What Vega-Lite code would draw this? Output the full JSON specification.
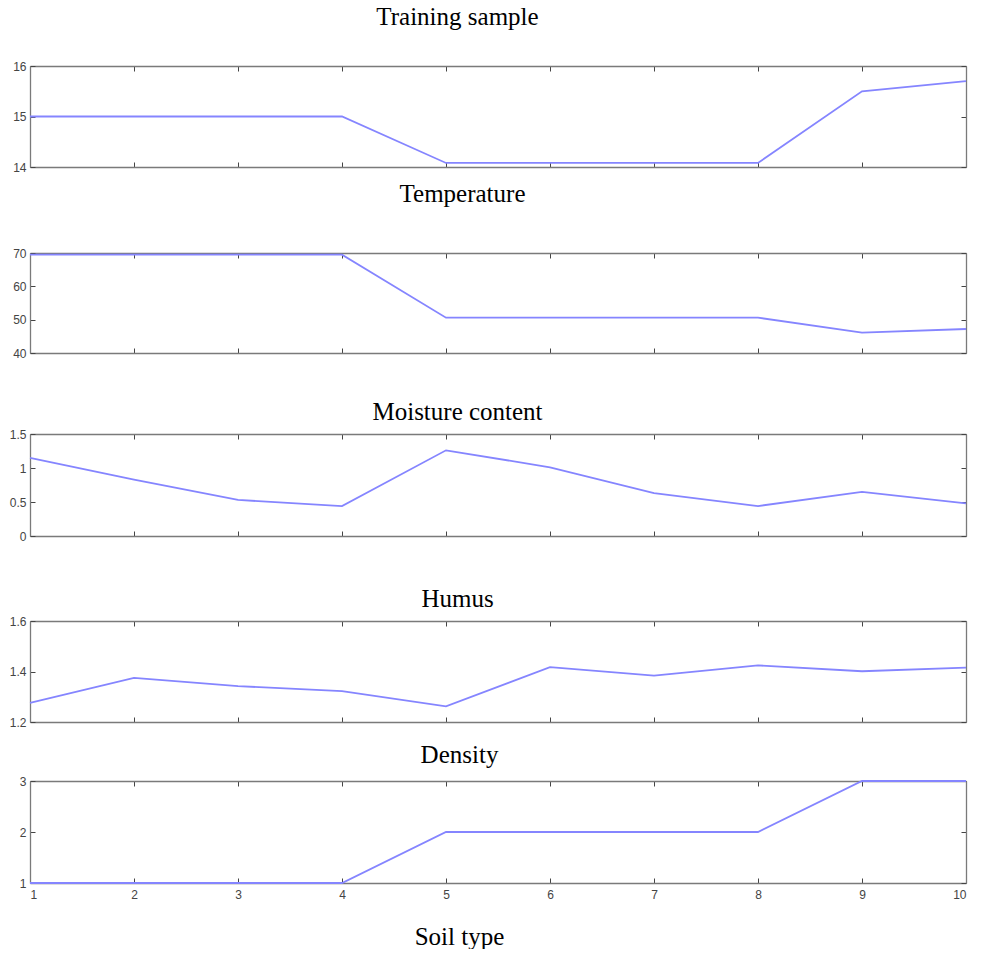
{
  "$schema": "https://vega.github.io/schema/vega-lite/v6.json",
  "padding": {"left": 5, "top": 4, "right": 0, "bottom": 0},
  "background": "white",
  "spacing": 0,
  "config": {
    "view": {"stroke": null},
    "axis": {
      "domainColor": "#7a7a7a",
      "domainWidth": 1.3,
      "tickColor": "#444",
      "tickSize": -5,
      "tickWidth": 1,
      "grid": false,
      "labelFont": "Liberation Sans",
      "labelFontSize": 12,
      "labelColor": "#444",
      "titleFont": "Liberation Serif",
      "titleFontSize": 25,
      "titleFontWeight": "normal",
      "titleColor": "#000"
    },
    "line": {"color": "#8585ff", "strokeWidth": 1.8}
  },
  "data": {
    "values": [
      {"x": 1, "temperature": 15.0, "moisture": 69.5, "humus": 1.15, "density": 1.276, "soil": 1},
      {"x": 2, "temperature": 15.0, "moisture": 69.5, "humus": 0.83, "density": 1.375, "soil": 1},
      {"x": 3, "temperature": 15.0, "moisture": 69.5, "humus": 0.53, "density": 1.342, "soil": 1},
      {"x": 4, "temperature": 15.0, "moisture": 69.5, "humus": 0.44, "density": 1.322, "soil": 1},
      {"x": 5, "temperature": 14.08, "moisture": 50.6, "humus": 1.26, "density": 1.262, "soil": 2},
      {"x": 6, "temperature": 14.08, "moisture": 50.6, "humus": 1.01, "density": 1.417, "soil": 2},
      {"x": 7, "temperature": 14.08, "moisture": 50.6, "humus": 0.63, "density": 1.384, "soil": 2},
      {"x": 8, "temperature": 14.08, "moisture": 50.6, "humus": 0.44, "density": 1.424, "soil": 2},
      {"x": 9, "temperature": 15.5, "moisture": 46.1, "humus": 0.65, "density": 1.401, "soil": 3},
      {"x": 10, "temperature": 15.7, "moisture": 47.2, "humus": 0.48, "density": 1.415, "soil": 3}
    ]
  },
  "vconcat": [
    {
      "width": 936, "height": 101,
      "layer": [
        {"mark": {"type": "line"},
         "encoding": {
           "x": {"field": "x", "type": "quantitative", "scale": {"domain": [1, 10]},
                 "axis": {"orient": "bottom", "values": [1,2,3,4,5,6,7,8,9,10], "labels": false, "title": "Temperature", "titlePadding": 14, "minExtent": 0, "titleX": 432}},
           "y": {"field": "temperature", "type": "quantitative", "scale": {"domain": [14, 16], "nice": false, "zero": false},
                 "axis": {"orient": "left", "values": [14, 15, 16], "format": "~r", "labelPadding": 9, "minExtent": 25, "title": null}}
         }},
        {"mark": {"type": "line", "opacity": 0},
         "encoding": {
           "x": {"field": "x", "type": "quantitative",
                 "axis": {"orient": "top", "values": [1,2,3,4,5,6,7,8,9,10], "labels": false, "title": "Training sample", "titlePadding": 36, "minExtent": 0, "titleX": 427}},
           "y": {"field": "temperature", "type": "quantitative",
                 "axis": {"orient": "right", "values": [14, 15, 16], "labels": false, "title": null, "minExtent": 0}}
         }}
      ],
      "resolve": {"axis": {"x": "independent", "y": "independent"}}
    },
    {
      "width": 936, "height": 100,
      "layer": [
        {"mark": {"type": "line"},
         "encoding": {
           "x": {"field": "x", "type": "quantitative", "scale": {"domain": [1, 10]},
                 "axis": {"orient": "bottom", "values": [1,2,3,4,5,6,7,8,9,10], "labels": false, "title": "Moisture content", "titlePadding": 46, "minExtent": 0, "titleX": 427}},
           "y": {"field": "moisture", "type": "quantitative", "scale": {"domain": [40, 70], "nice": false, "zero": false},
                 "axis": {"orient": "left", "values": [40, 50, 60, 70], "format": "~r", "labelPadding": 9, "minExtent": 25, "title": null}}
         }},
        {"mark": {"type": "line", "opacity": 0},
         "encoding": {
           "x": {"field": "x", "type": "quantitative",
                 "axis": {"orient": "top", "values": [1,2,3,4,5,6,7,8,9,10], "labels": false, "title": null, "minExtent": 46}},
           "y": {"field": "moisture", "type": "quantitative",
                 "axis": {"orient": "right", "values": [40, 50, 60, 70], "labels": false, "title": null, "minExtent": 0}}
         }}
      ],
      "resolve": {"axis": {"x": "independent", "y": "independent"}}
    },
    {
      "width": 936, "height": 102,
      "layer": [
        {"mark": {"type": "line"},
         "encoding": {
           "x": {"field": "x", "type": "quantitative", "scale": {"domain": [1, 10]},
                 "axis": {"orient": "bottom", "values": [1,2,3,4,5,6,7,8,9,10], "labels": false, "title": "Humus", "titlePadding": 50, "minExtent": 0, "titleX": 427}},
           "y": {"field": "humus", "type": "quantitative", "scale": {"domain": [0, 1.5], "nice": false},
                 "axis": {"orient": "left", "values": [0, 0.5, 1, 1.5], "format": "~r", "labelPadding": 9, "minExtent": 25, "title": null}}
         }},
        {"mark": {"type": "line", "opacity": 0},
         "encoding": {
           "x": {"field": "x", "type": "quantitative",
                 "axis": {"orient": "top", "values": [1,2,3,4,5,6,7,8,9,10], "labels": false, "title": null, "minExtent": 9}},
           "y": {"field": "humus", "type": "quantitative",
                 "axis": {"orient": "right", "values": [0, 0.5, 1, 1.5], "labels": false, "title": null, "minExtent": 0}}
         }}
      ],
      "resolve": {"axis": {"x": "independent", "y": "independent"}}
    },
    {
      "width": 936, "height": 101,
      "layer": [
        {"mark": {"type": "line"},
         "encoding": {
           "x": {"field": "x", "type": "quantitative", "scale": {"domain": [1, 10]},
                 "axis": {"orient": "bottom", "values": [1,2,3,4,5,6,7,8,9,10], "labels": false, "title": "Density", "titlePadding": 20, "minExtent": 0, "titleX": 429}},
           "y": {"field": "density", "type": "quantitative", "scale": {"domain": [1.2, 1.6], "nice": false, "zero": false},
                 "axis": {"orient": "left", "values": [1.2, 1.4, 1.6], "format": "~r", "labelPadding": 9, "minExtent": 25, "title": null}}
         }},
        {"mark": {"type": "line", "opacity": 0},
         "encoding": {
           "x": {"field": "x", "type": "quantitative",
                 "axis": {"orient": "top", "values": [1,2,3,4,5,6,7,8,9,10], "labels": false, "title": null, "minExtent": 9}},
           "y": {"field": "density", "type": "quantitative",
                 "axis": {"orient": "right", "values": [1.2, 1.4, 1.6], "labels": false, "title": null, "minExtent": 0}}
         }}
      ],
      "resolve": {"axis": {"x": "independent", "y": "independent"}}
    },
    {
      "width": 936, "height": 102,
      "layer": [
        {"mark": {"type": "line"},
         "encoding": {
           "x": {"field": "x", "type": "quantitative", "scale": {"domain": [1, 10]},
                 "axis": {"orient": "bottom", "values": [1,2,3,4,5,6,7,8,9,10], "format": "d", "labelPadding": 11, "title": "Soil type", "titlePadding": 23, "minExtent": 18, "titleX": 429}},
           "y": {"field": "soil", "type": "quantitative", "scale": {"domain": [1, 3], "nice": false, "zero": false},
                 "axis": {"orient": "left", "values": [1, 2, 3], "format": "~r", "labelPadding": 9, "minExtent": 25, "title": null}}
         }},
        {"mark": {"type": "line", "opacity": 0},
         "encoding": {
           "x": {"field": "x", "type": "quantitative",
                 "axis": {"orient": "top", "values": [1,2,3,4,5,6,7,8,9,10], "labels": false, "title": null, "minExtent": 13}},
           "y": {"field": "soil", "type": "quantitative",
                 "axis": {"orient": "right", "values": [1, 2, 3], "labels": false, "title": null, "minExtent": 0}}
         }}
      ],
      "resolve": {"axis": {"x": "independent", "y": "independent"}}
    }
  ]
}
